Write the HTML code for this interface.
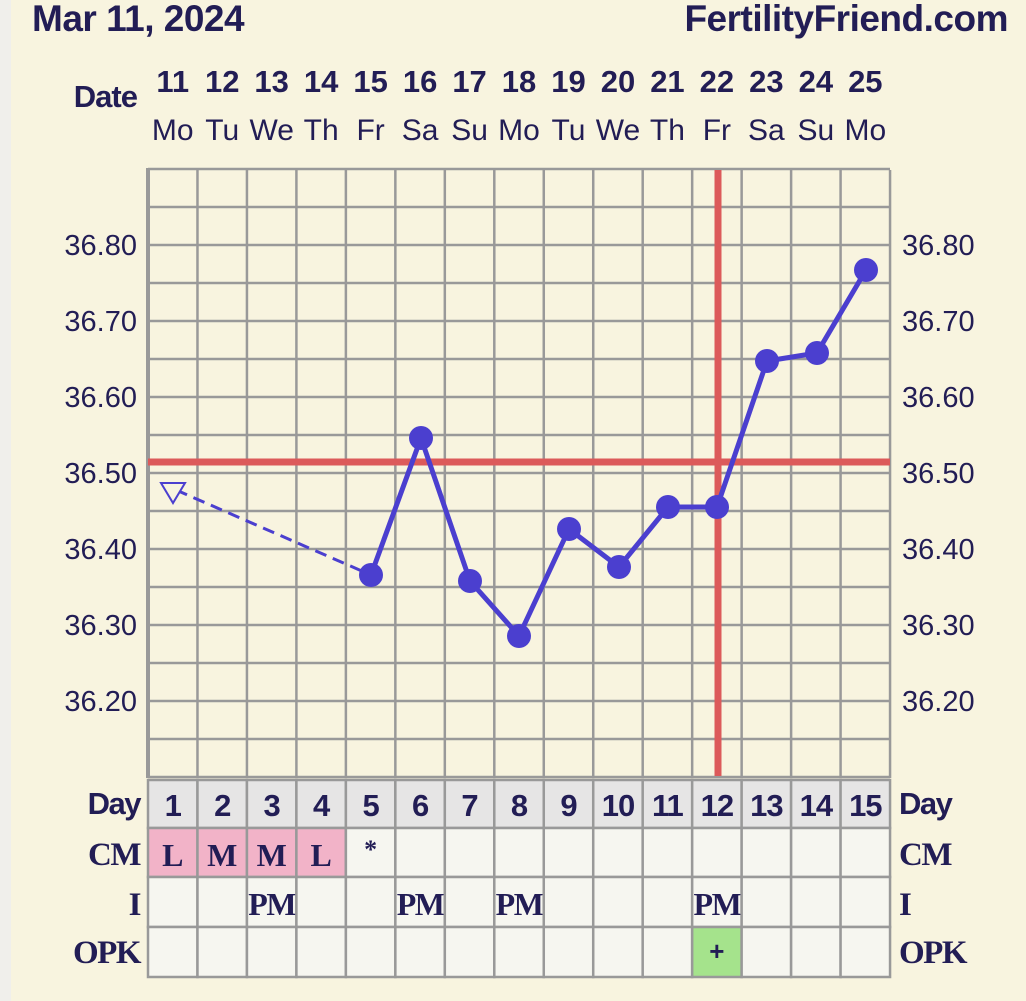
<!DOCTYPE html>
<html><head><meta charset="utf-8"><style>
html,body{margin:0;padding:0;background:#f8f4df;}
svg{display:block}
</style></head><body>
<svg width="1026" height="1001" viewBox="0 0 1026 1001" xmlns="http://www.w3.org/2000/svg">
<rect x="0" y="0" width="1026" height="1001" fill="#f8f4df"/>
<rect x="0" y="0" width="11" height="1001" fill="#f0efeb"/>
<g font-family="Liberation Sans, sans-serif" fill="#221d55">
<text x="32" y="31" font-size="37" font-weight="bold" letter-spacing="-0.5">Mar 11, 2024</text>
<text x="1008" y="31" font-size="37" font-weight="bold" text-anchor="end" letter-spacing="-0.5">FertilityFriend.com</text>
<text x="137" y="107" font-size="31" font-weight="bold" text-anchor="end" letter-spacing="-1">Date</text>
<g font-size="31" font-weight="bold" text-anchor="middle" id="dn"></g>
<g font-size="30" text-anchor="middle" id="wd"></g>
<g font-size="29" text-anchor="end" id="yl"></g>
<g font-size="29" id="yr"></g>
</g>
<g id="grid" stroke="#999" stroke-width="2.5" fill="none"></g>
<g id="tbl"></g>
<line x1="148" y1="462" x2="890" y2="462" stroke="#dc5a5a" stroke-width="7"/>
<line x1="718" y1="170" x2="718" y2="776" stroke="#dc5a5a" stroke-width="7"/>
<line x1="176" y1="490" x2="371" y2="575" stroke="#4b3fcf" stroke-width="3" stroke-dasharray="12,7"/>
<polygon points="161,483 185,483 173,503" fill="#f8f4df" stroke="#4b3fcf" stroke-width="2"/>
<polyline points="371,575 421,438 470,581 519,636 569,529 619,567 668,507 717,507 767,361 817,353 866,270" fill="none" stroke="#4b3fcf" stroke-width="5" stroke-linejoin="round"/>
<g fill="#4b3fcf" id="pts"></g>
<script>
var ns="http://www.w3.org/2000/svg";
function el(p,t,a,txt){var e=document.createElementNS(ns,t);for(var k in a)e.setAttribute(k,a[k]);if(txt!=null)e.textContent=txt;p.appendChild(e);return e;}
var L=148,W=49.47;
function cx(i){return L+W*(i+0.5);}
var dn=document.getElementById('dn'),wd=document.getElementById('wd');
var days=["Mo","Tu","We","Th","Fr","Sa","Su","Mo","Tu","We","Th","Fr","Sa","Su","Mo"];
for(var i=0;i<15;i++){el(dn,'text',{x:cx(i),y:92},String(11+i));el(wd,'text',{x:cx(i),y:140},days[i]);}
var yl=document.getElementById('yl'),yr=document.getElementById('yr');
["36.80","36.70","36.60","36.50","36.40","36.30","36.20"].forEach(function(s,k){var y=255+k*76;el(yl,'text',{x:137,y:y},s);el(yr,'text',{x:902,y:y},s);});
var g=document.getElementById('grid');
for(var k=0;k<=16;k++){var y=169+k*38;el(g,'line',{x1:148,y1:y,x2:890,y2:y});}
for(var i=0;i<=15;i++){var x=L+W*i;el(g,'line',{x1:x,y1:170,x2:x,y2:778});}
el(g,'line',{x1:148,y1:168,x2:148,y2:778,'stroke-width':4});
var t=document.getElementById('tbl');
var cm=["L","M","M","L","*"],im={2:1,5:1,7:1,11:1};
for(var i=0;i<15;i++){var x=L+W*i;
 el(t,'rect',{x:x,y:780,width:W,height:48,fill:"#e6e5e5",stroke:"#999","stroke-width":2.5});
 el(t,'rect',{x:x,y:828,width:W,height:49,fill:i<4?"#f2b3c8":"#f6f6f0",stroke:"#999","stroke-width":2.5});
 el(t,'rect',{x:x,y:877,width:W,height:50,fill:"#f6f6f0",stroke:"#999","stroke-width":2.5});
 el(t,'rect',{x:x,y:927,width:W,height:50,fill:i==11?"#a5e38c":"#f6f6f0",stroke:"#999","stroke-width":2.5});
 el(t,'text',{x:cx(i),y:816,"font-family":"Liberation Sans, sans-serif","font-size":31,"font-weight":"bold","text-anchor":"middle",fill:"#221d55","letter-spacing":-1},String(i+1));
 if(i<5)el(t,'text',{x:cx(i),y:i==4?858:866,"font-family":"Liberation Serif, serif","font-size":i==4?26:32,"font-weight":"bold","text-anchor":"middle",fill:"#221d55"},cm[i]);
 if(im[i])el(t,'text',{x:cx(i),y:915,"font-family":"Liberation Serif, serif","font-size":32,"font-weight":"bold","text-anchor":"middle",fill:"#221d55","letter-spacing":-1.5},"PM");
 if(i==11)el(t,'text',{x:cx(i),y:960,"font-family":"Liberation Sans, sans-serif","font-size":26,"font-weight":"bold","text-anchor":"middle",fill:"#221d55"},"+");
}
var lab=[["Day",814,"Liberation Sans, sans-serif",31],["CM",865,"Liberation Serif, serif",33],["I",915,"Liberation Serif, serif",33],["OPK",963,"Liberation Serif, serif",33]];
lab.forEach(function(a){
 el(t,'text',{x:140,y:a[1],"font-family":a[2],"font-size":a[3],"font-weight":"bold","text-anchor":"end",fill:"#221d55","letter-spacing":-1.5},a[0]);
 el(t,'text',{x:899,y:a[1],"font-family":a[2],"font-size":a[3],"font-weight":"bold",fill:"#221d55","letter-spacing":-1.5},a[0]);
});
var pts=document.getElementById('pts');
[[371,575],[421,438],[470,581],[519,636],[569,529],[619,567],[668,507],[717,507],[767,361],[817,353],[866,270]].forEach(function(p){el(pts,'circle',{cx:p[0],cy:p[1],r:12});});
</script>
</svg>
</body></html>
